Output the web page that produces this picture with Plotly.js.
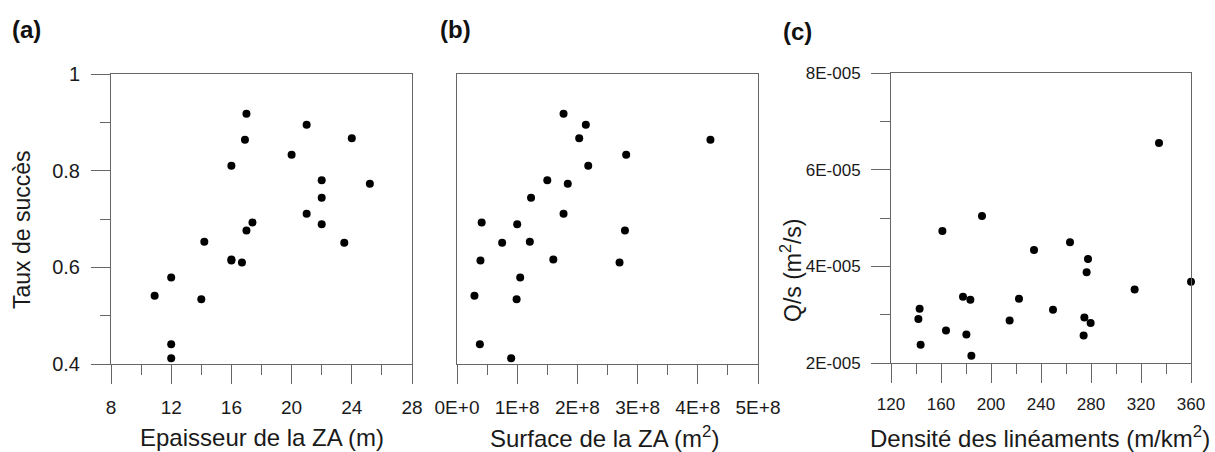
<!DOCTYPE html>
<html>
<head>
<meta charset="utf-8">
<script src="https://cdn.plot.ly/plotly-3.0.1.min.js"></script>
<style>html,body{margin:0;padding:0;background:#fff;}#chart{width:1215px;height:452px;}</style>
</head>
<body>
<div id="chart"></div>
<script>
// ---- Data ----
const tauxSucces = [0.918, 0.895, 0.867, 0.864, 0.833, 0.810, 0.780, 0.773, 0.744, 0.711, 0.693, 0.689, 0.676, 0.653, 0.651, 0.616, 0.614, 0.610, 0.579, 0.541, 0.534, 0.441, 0.412];
const epaisseurZA = [17.0, 21.0, 24.0, 16.9, 20.0, 16.0, 22.0, 25.2, 22.0, 21.0, 17.4, 22.0, 17.0, 14.2, 23.5, 16.0, 16.0, 16.7, 12.0, 10.9, 14.0, 12.0, 12.0];
const surfaceZA = [1.77e8, 2.14e8, 2.03e8, 4.21e8, 2.81e8, 2.18e8, 1.50e8, 1.84e8, 1.23e8, 1.77e8, 0.41e8, 1.00e8, 2.79e8, 1.21e8, 0.75e8, 1.60e8, 0.39e8, 2.70e8, 1.05e8, 0.29e8, 0.99e8, 0.38e8, 0.90e8];
const densiteLineaments = [334.4, 192.8, 161.1, 263.2, 234.4, 277.6, 276.5, 360.0, 314.9, 177.6, 183.5, 222.4, 142.9, 249.6, 141.9, 214.9, 274.7, 279.7, 164.0, 180.3, 274.1, 143.7, 184.3];
const debitSpecifique = [6.55e-5, 5.04e-5, 4.73e-5, 4.50e-5, 4.34e-5, 4.15e-5, 3.88e-5, 3.68e-5, 3.52e-5, 3.37e-5, 3.31e-5, 3.33e-5, 3.12e-5, 3.10e-5, 2.91e-5, 2.88e-5, 2.94e-5, 2.83e-5, 2.67e-5, 2.59e-5, 2.57e-5, 2.38e-5, 2.15e-5];

// ---- Tick labels ----
const tickA_x = [8, 12, 16, 20, 24, 28];
const tickA_xText = ['8', '12', '16', '20', '24', '28'];
const minorA_x = [10, 14, 18, 22, 26];
const tickA_y = [0.4, 0.6, 0.8, 1.0];
const tickA_yText = ['0.4', '0.6', '0.8', '1'];
const minorA_y = [0.5, 0.7, 0.9];
const tickB_x = [0, 1e8, 2e8, 3e8, 4e8, 5e8];
const tickB_xText = ['0E+0', '1E+8', '2E+8', '3E+8', '4E+8', '5E+8'];
const minorB_x = [0.5e8, 1.5e8, 2.5e8, 3.5e8, 4.5e8];
const tickC_x = [120, 160, 200, 240, 280, 320, 360];
const tickC_xText = ['120', '160', '200', '240', '280', '320', '360'];
const minorC_x = [140, 180, 220, 260, 300, 340];
const tickC_y = [2e-5, 4e-5, 6e-5, 8e-5];
const tickC_yText = ['2E-005', '4E-005', '6E-005', '8E-005'];
const minorC_y = [3e-5, 5e-5, 7e-5];

const W = 1215, H = 452;
const px = v => v / W;
const py = v => 1 - v / H;

const lineCol = '#666666';
const textCol = '#1a1a1a';
const fontFam = 'Liberation Sans, Arial, sans-serif';

const marker = {color: '#000000', size: 8, line: {width: 0}};

const traces = [
  {x: epaisseurZA, y: tauxSucces, type: 'scatter', mode: 'markers', marker: marker, xaxis: 'x', yaxis: 'y', cliponaxis: false},
  {x: surfaceZA, y: tauxSucces, type: 'scatter', mode: 'markers', marker: marker, xaxis: 'x2', yaxis: 'y2', cliponaxis: false},
  {x: densiteLineaments, y: debitSpecifique, type: 'scatter', mode: 'markers', marker: marker, xaxis: 'x3', yaxis: 'y3', cliponaxis: false}
];

function xAxis(domain, range, tv, tt, mv, anchor, fs) {
  return {
    domain: domain, range: range, anchor: anchor,
    tickmode: 'array', tickvals: tv, ticktext: tt,
    ticks: 'outside', ticklen: 19, tickwidth: 1, tickcolor: lineCol,
    minor: {tickmode: 'array', tickvals: mv, ticks: 'outside', ticklen: 10, tickwidth: 1, tickcolor: lineCol, showgrid: false},
    showline: true, linecolor: lineCol, linewidth: 1, mirror: true,
    showgrid: false, zeroline: false,
    tickfont: {family: fontFam, size: fs, color: textCol},
    ticklabelstandoff: 7
  };
}
function yAxis(domain, range, tv, tt, mv, anchor, fs, show) {
  const ax = {
    domain: domain, range: range, anchor: anchor,
    showline: true, linecolor: lineCol, linewidth: 1, mirror: true,
    showgrid: false, zeroline: false,
    tickfont: {family: fontFam, size: fs, color: textCol}
  };
  if (show) {
    Object.assign(ax, {
      tickmode: 'array', tickvals: tv, ticktext: tt,
      ticks: 'outside', ticklen: 19, tickwidth: 1, tickcolor: lineCol,
      minor: {tickmode: 'array', tickvals: mv, ticks: 'outside', ticklen: 10, tickwidth: 1, tickcolor: lineCol, showgrid: false},
      ticklabelstandoff: 7
    });
  } else {
    Object.assign(ax, {showticklabels: false, ticks: ''});
  }
  return ax;
}

const yDomAB = [py(364), py(74)];
const yDomC = [py(363), py(73)];

const xTitleFont = {family: fontFam, size: 24, color: textCol};
const yTitleFont = {family: fontFam, size: 23, color: textCol};
const panelFont = {family: fontFam, size: 24, color: '#111111', weight: 'bold'};

function ann(text, x, y, font, angle) {
  const a = {text: text, xref: 'paper', yref: 'paper', x: px(x), y: py(y), xanchor: 'center', yanchor: 'middle', showarrow: false, font: font};
  if (angle) a.textangle = angle;
  return a;
}

const layout = {
  width: W, height: H,
  margin: {l: 0, r: 0, t: 0, b: 0, pad: 0},
  paper_bgcolor: '#ffffff', plot_bgcolor: '#ffffff',
  showlegend: false,
  xaxis: xAxis([px(111), px(412)], [8, 28], tickA_x, tickA_xText, minorA_x, 'y', 19),
  yaxis: yAxis(yDomAB, [0.4, 1.0], tickA_y, tickA_yText, minorA_y, 'x', 20, true),
  xaxis2: xAxis([px(457), px(758)], [0, 5e8], tickB_x, tickB_xText, minorB_x, 'y2', 19),
  yaxis2: yAxis(yDomAB, [0.4, 1.0], [], [], [], 'x2', 18, false),
  xaxis3: xAxis([px(891), px(1191)], [120, 360], tickC_x, tickC_xText, minorC_x, 'y3', 17),
  yaxis3: yAxis(yDomC, [2e-5, 8e-5], tickC_y, tickC_yText, minorC_y, 'x3', 17, true),
  annotations: [
    ann('<b>(a)</b>', 26, 29, panelFont),
    ann('<b>(b)</b>', 455, 29, panelFont),
    ann('<b>(c)</b>', 797, 31, panelFont),
    ann('Epaisseur de la ZA (m)', 262, 437, xTitleFont),
    ann('Surface de la ZA (m<sup>2</sup>)', 604, 437, xTitleFont),
    ann('Densité des linéaments (m/km<sup>2</sup>)', 1040, 437, xTitleFont),
    ann('Taux de succès', 22, 230, yTitleFont, -90),
    ann('Q/s (m<sup>2</sup>/s)', 791, 270, yTitleFont, -90)
  ]
};

Plotly.newPlot('chart', traces, layout, {staticPlot: true, displayModeBar: false});
</script>
</body>
</html>
